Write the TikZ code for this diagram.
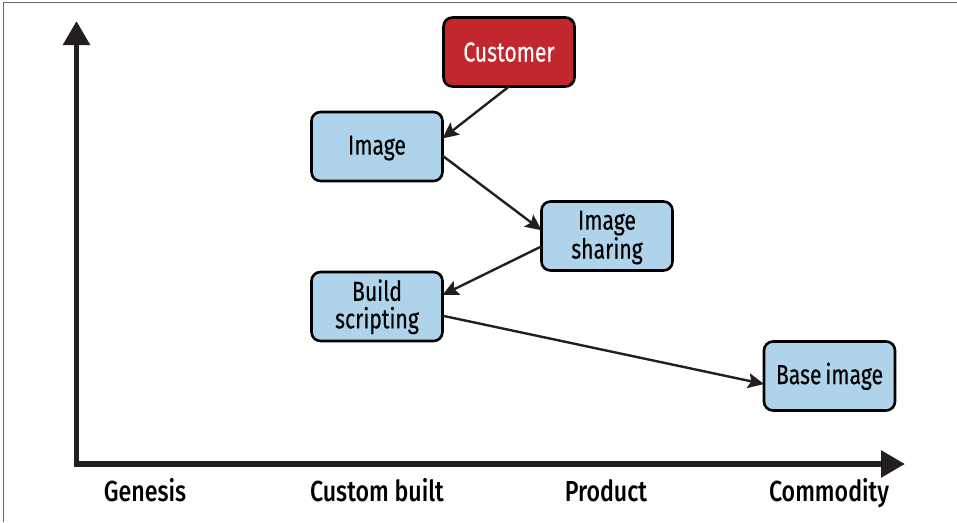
\documentclass[tikz,border=0pt]{standalone}
\usepackage{fontspec}
\setmainfont[FakeStretch=0.8]{Fira Sans Medium}
\newfontfamily\boxfont[FakeStretch=0.77,WordSpace=0.7,FakeBold=0.3]{Fira Sans}
\usetikzlibrary{arrows.meta}
\definecolor{inkdark}{HTML}{231F20}
\definecolor{boxblue}{HTML}{AFD3EA}
\definecolor{boxred}{HTML}{C1272D}
\newcommand\boxstrut{\rule[-3pt]{0pt}{25pt}}
\tikzset{
  box/.style={draw=black,line width=2.6pt,rounded corners=9pt,minimum width=131pt,minimum height=69pt,
    inner sep=0pt,outer sep=0pt,align=center,font=\boxfont\fontsize{27.5}{27.5}\selectfont,text=black},
  bluebox/.style={box,fill=boxblue},
  redbox/.style={box,fill=boxred,text=white},
  link/.style={draw=inkdark,line width=2.4pt,-{Stealth[length=16pt,width=15pt,inset=3pt]}},
  axisline/.style={draw=inkdark,line width=5.6pt,{Triangle[length=24pt,width=26pt]}-{Triangle[length=24pt,width=26pt]}},
  axislabel/.style={font=\fontsize{29}{30}\selectfont,text=black,inner sep=0pt,anchor=base},
  frameline/.style={draw=black!60,line width=1pt}
}
\begin{document}
\begin{tikzpicture}[x=1pt,y=-1pt]
\useasboundingbox (0,0) rectangle (957,522);
\coordinate (fa) at (3,522);
\coordinate (fb) at (3,2.5);
\coordinate (fc) at (957,2.5);
\draw[frameline] (fa) -- (fb) -- (fc);
\coordinate (ytip) at (76.5,21);
\coordinate (origin) at (76.5,464);
\coordinate (xtip) at (905,464);
\draw[axisline] (ytip) -- (origin) -- (xtip);
\node[redbox] (customer) at (509,52) {\boxstrut Customer};
\node[bluebox] (image) at (377,146.5) {\boxstrut Image};
\node[bluebox] (sharing) at (607,236) {\boxstrut Image\\\boxstrut sharing};
\node[bluebox] (build) at (377,306.5) {\boxstrut Build\\\boxstrut scripting};
\node[bluebox] (base) at (829.5,376) {\boxstrut Base image};
\draw[link] (customer.south) -- (image.7.3);
\draw[link] (image.352.7) -- (sharing.175.7);
\draw[link] (sharing.189.5) -- (build.10.7);
\draw[link] (build.352.7) -- (base.187.7);
\node[axislabel] (genesis) at (145,501) {Genesis};
\node[axislabel] (custom) at (377,501) {Custom built};
\node[axislabel] (product) at (606,501) {Product};
\node[axislabel] (commodity) at (829,501) {Commodity};
\end{tikzpicture}
\end{document}
